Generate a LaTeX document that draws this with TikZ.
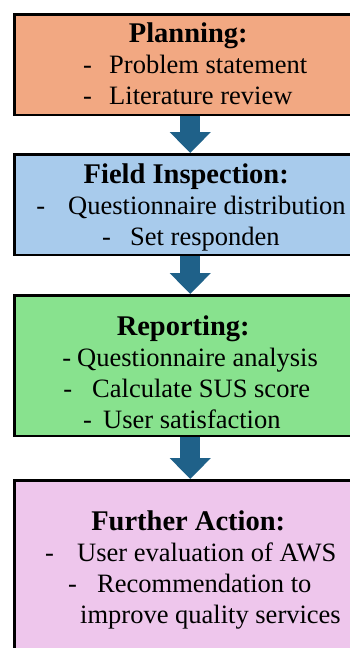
\documentclass[tikz,border=0pt]{standalone}
\usepackage{fontspec}
\setmainfont{Liberation Serif}
\usetikzlibrary{positioning,arrows.meta}

\definecolor{planorange}{HTML}{F2A882}
\definecolor{fieldblue}{HTML}{A8CBEC}
\definecolor{reportgreen}{HTML}{88E28E}
\definecolor{actionpink}{HTML}{EEC6EC}
\definecolor{flowblue}{HTML}{1F6189}

% lines inside a box, x positions measured from the left of the picture
\newcommand{\boxtitle}[2]{\hspace*{\dimexpr#1pt-14pt}\makebox[0pt]{\fontsize{28.5}{31}\selectfont\bfseries #2}}
\newcommand{\dashitem}[3]{\makebox[0pt][l]{\hspace*{\dimexpr#1pt-14pt}-}\hspace*{\dimexpr#2pt-14pt}#3}
\newcommand{\plainitem}[2]{\hspace*{\dimexpr#1pt-14pt}#2}

\tikzset{
  stage/.style={draw=black, line width=2.5pt, inner sep=0pt},
  flow/.style={line width=20pt, flowblue, -{Triangle[length=21pt,width=40pt]}}
}

\begin{document}
\begin{tikzpicture}[x=1pt, y=1pt]
  \useasboundingbox (0,0) rectangle (350,-648);
  \clip (0,0) rectangle (350,-648);

  \node[stage, fill=planorange, anchor=north west] (plan) at (13,-13) {
    \begin{minipage}[c][100.5pt][t]{352pt}
      \fontsize{26.5}{31}\selectfont
      \vspace*{8pt}
      \boxtitle{188}{Planning:}\\
      \dashitem{83}{109}{Problem statement}\\
      \dashitem{83}{109}{Literature review}
    \end{minipage}
  };
  \node[stage, fill=fieldblue, below=37pt of plan] (field) {
    \begin{minipage}[c][100.5pt][t]{352pt}
      \fontsize{26.5}{31}\selectfont
      \vspace*{9pt}
      \boxtitle{186}{Field Inspection:}\\
      \dashitem{36}{68}{Questionnaire distribution}\\
      \dashitem{102}{130}{Set responden}
    \end{minipage}
  };
  \node[stage, fill=reportgreen, below=38pt of field] (report) {
    \begin{minipage}[c][140.5pt][t]{352pt}
      \fontsize{26.5}{31}\selectfont
      \vspace*{20pt}
      \boxtitle{183}{Reporting:}\\
      \dashitem{62}{77}{Questionnaire analysis}\\
      \dashitem{63}{92}{Calculate SUS score}\\
      \dashitem{83}{103}{User satisfaction}
    \end{minipage}
  };
  \node[stage, fill=actionpink, below=42pt of report] (action) {
    \begin{minipage}[c][190pt][t]{352pt}
      \fontsize{26.5}{31}\selectfont
      \vspace*{30pt}
      \boxtitle{188}{Further Action:}\\
      \dashitem{45}{77}{User evaluation of AWS}\\
      \dashitem{68}{97}{Recommendation to}\\
      \plainitem{80}{improve quality services}
    \end{minipage}
  };

  \draw[flow] (plan) -- (field);
  \draw[flow] (field) -- (report);
  \draw[flow] (report) -- (action);
\end{tikzpicture}
\end{document}
